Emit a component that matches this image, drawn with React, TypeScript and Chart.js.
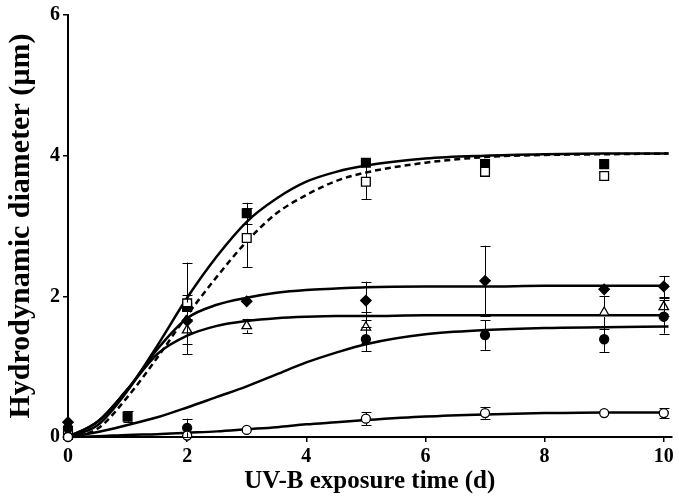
import React, { useEffect, useRef } from "react";
import { Chart, registerables } from "chart.js";

Chart.register(...registerables);

// ---------- axis ticks ----------
const X_TICKS = [0, 2, 4, 6, 8, 10];
const Y_TICKS = [0, 2, 4, 6];

// ---------- measured points (x = days, y = µm, err = ± error) ----------
const sqFilledX = [0, 1, 2, 3, 5, 7, 9];
const sqFilledY = [0.08, 0.29, 1.85, 3.18, 3.9, 3.88, 3.88];
const sqFilledErr = [0, 0.08, 0.17, 0.15, 0.05, 0, 0];

const sqOpenX = [0, 2, 3, 5, 7, 9];
const sqOpenY = [0.03, 1.9, 2.83, 3.63, 3.77, 3.71];
const sqOpenErr = [0, 0.58, 0.42, 0.25, 0, 0];

const diamondX = [0, 2, 3, 5, 7, 9, 10];
const diamondY = [0.21, 1.65, 1.93, 1.94, 2.22, 2.1, 2.14];
const diamondErr = [0, 0.05, 0, 0.27, 0.5, 0.07, 0.15];

const triangleX = [0, 2, 3, 5, 9, 10];
const triangleY = [0.04, 1.52, 1.58, 1.56, 1.77, 1.85];
const triangleErr = [0, 0.34, 0.1, 0.22, 0.24, 0.13];

const circFilledX = [0, 2, 5, 7, 9, 10];
const circFilledY = [0.13, 0.13, 1.39, 1.45, 1.39, 1.71];
const circFilledErr = [0, 0.13, 0.17, 0.21, 0.18, 0.24];

const circOpenX = [0, 2, 3, 5, 7, 9, 10];
const circOpenY = [0.0, 0.02, 0.1, 0.26, 0.34, 0.34, 0.34];
const circOpenErr = [0, 0, 0, 0.09, 0.08, 0.06, 0.07];

// ---------- fitted curves ----------
const FIT_X = [0, 0.5, 1, 1.5, 2, 2.5, 3, 3.5, 4, 4.5, 5, 6, 7, 8, 9, 10.08];
const fitSqFilled = [0, 0.17, 0.66, 1.3, 1.98, 2.57, 3.06, 3.39, 3.63, 3.77, 3.86, 3.96, 4.0, 4.02, 4.03, 4.03];
const fitSqOpen = [0, 0.12, 0.57, 1.13, 1.73, 2.28, 2.78, 3.18, 3.44, 3.64, 3.76, 3.9, 3.98, 4.01, 4.02, 4.03];
const fitDiamond = [0, 0.22, 0.68, 1.25, 1.69, 1.88, 1.98, 2.05, 2.09, 2.11, 2.13, 2.14, 2.14, 2.15, 2.15, 2.15];
const fitTriangle = [0, 0.22, 0.68, 1.18, 1.44, 1.58, 1.65, 1.69, 1.71, 1.72, 1.72, 1.73, 1.73, 1.73, 1.73, 1.73];
const fitCircFilled = [0, 0.07, 0.17, 0.28, 0.42, 0.57, 0.72, 0.89, 1.06, 1.2, 1.32, 1.46, 1.52, 1.55, 1.56, 1.57];
const fitCircOpen = [0, 0.01, 0.03, 0.04, 0.06, 0.08, 0.11, 0.14, 0.18, 0.21, 0.24, 0.29, 0.32, 0.34, 0.35, 0.35];

const pts = (xs: number[], ys: number[]) => xs.map((x, i) => ({ x, y: ys[i] }));

const FONT = '"Liberation Serif", "Times New Roman", serif';

const errorBarPlugin = {
  id: "errorBars",
  afterDatasetsDraw(chart: any) {
    const ctx = chart.ctx;
    const xs = chart.scales.x;
    const ys = chart.scales.y;
    ctx.save();
    ctx.strokeStyle = "#000";
    ctx.lineWidth = 1;
    chart.data.datasets.forEach((ds: any) => {
      if (!ds.errors) return;
      ds.data.forEach((p: any, i: number) => {
        const e = ds.errors[i];
        if (!e) return;
        const px = Math.round(xs.getPixelForValue(p.x)) + 0.5;
        const py = ys.getPixelForValue(p.y);
        const top = ys.getPixelForValue(p.y + e);
        const bot = ys.getPixelForValue(p.y - e);
        const h = ds.markerHalf;
        const cap = 5;
        ctx.beginPath();
        if (py - top > h) {
          ctx.moveTo(px, py - h);
          ctx.lineTo(px, top);
          ctx.moveTo(px - cap, Math.round(top) + 0.5);
          ctx.lineTo(px + cap, Math.round(top) + 0.5);
        }
        if (bot - py > h) {
          ctx.moveTo(px, py + h);
          ctx.lineTo(px, bot);
          ctx.moveTo(px - cap, Math.round(bot) + 0.5);
          ctx.lineTo(px + cap, Math.round(bot) + 0.5);
        }
        ctx.stroke();
      });
    });
    ctx.restore();
  },
};

export default function App() {
  const ref = useRef<HTMLCanvasElement | null>(null);

  useEffect(() => {
    if (!ref.current) return;

    const curve = (ys: number[], dashed = false) => ({
      type: "line",
      data: pts(FIT_X, ys),
      showLine: true,
      borderColor: "#000",
      borderWidth: 2.5,
      borderDash: dashed ? [6, 4] : [],
      pointRadius: 0,
      tension: 0.4,
      cubicInterpolationMode: "monotone",
      fill: false,
      order: 2,
      clip: false,
    });

    const marker = (xs: number[], ys: number[], errs: number[], style: string, filled: boolean, radius: number, half: number) => ({
      type: "scatter",
      data: pts(xs, ys),
      showLine: false,
      pointStyle: style,
      pointRadius: radius,
      pointBackgroundColor: filled ? "#000" : "#fff",
      pointBorderColor: "#000",
      pointBorderWidth: 1.3,
      order: 1,
      clip: false,
      errors: errs,
      markerHalf: half,
    });

    const chart = new Chart(ref.current, {
      type: "scatter",
      data: {
        datasets: [
          curve(fitSqFilled),
          curve(fitSqOpen, true),
          curve(fitDiamond),
          curve(fitTriangle),
          curve(fitCircFilled),
          curve(fitCircOpen),
          marker(circOpenX, circOpenY, circOpenErr, "circle", false, 4.5, 4.5),
          marker(circFilledX, circFilledY, circFilledErr, "circle", true, 4.5, 4.5),
          marker(triangleX, triangleY, triangleErr, "triangle", false, 5.5, 4.5),
          marker(diamondX, diamondY, diamondErr, "rectRot", true, 5.2, 5),
          marker(sqOpenX, sqOpenY, sqOpenErr, "rect", false, 6.2, 4.3),
          marker(sqFilledX, sqFilledY, sqFilledErr, "rect", true, 6.2, 4.3),
        ] as any,
      },
      options: {
        animation: false,
        responsive: false,
        maintainAspectRatio: false,
        devicePixelRatio: 1,
        layout: { padding: { top: 15, right: 2, left: 0, bottom: 0 } },
        plugins: { legend: { display: false }, tooltip: { enabled: false } },
        scales: {
          x: {
            type: "linear",
            min: 0,
            max: 10.13,
            afterBuildTicks: (s: any) => {
              s.ticks = X_TICKS.map((v) => ({ value: v }));
            },
            afterFit: (s: any) => {
              s.height = 60;
            },
            border: { display: true, color: "#000", width: 2 },
            grid: { drawOnChartArea: false, drawTicks: true, color: "#000", tickLength: 5, lineWidth: 1.5 },
            ticks: {
              color: "#000",
              padding: 3,
              maxRotation: 0,
              autoSkip: false,
              font: { family: FONT, weight: "bold", size: 20 },
            },
            title: {
              display: true,
              text: "UV-B exposure time (d)",
              color: "#000",
              font: { family: FONT, weight: "bold", size: 25 },
              padding: { top: 0, bottom: 0 },
            },
          },
          y: {
            type: "linear",
            min: 0,
            max: 6,
            afterBuildTicks: (s: any) => {
              s.ticks = Y_TICKS.map((v) => ({ value: v }));
            },
            afterFit: (s: any) => {
              s.width = 68;
            },
            border: { display: true, color: "#000", width: 2 },
            grid: { drawOnChartArea: false, drawTicks: true, color: "#000", tickLength: 5, lineWidth: 1.5 },
            ticks: {
              color: "#000",
              padding: 3,
              font: { family: FONT, weight: "bold", size: 20 },
            },
            title: {
              display: true,
              text: "Hydrodynamic diameter (\u00b5m)",
              color: "#000",
              font: { family: FONT, weight: "bold", size: 30 },
              padding: { top: 3, bottom: 0 },
            },
          },
        },
      } as any,
      plugins: [errorBarPlugin],
    });

    return () => chart.destroy();
  }, []);

  return (
    <div style={{ position: "fixed", left: 0, top: 0, width: 679, height: 497, background: "#fff" }}>
      <canvas ref={ref} width={679} height={497} style={{ display: "block", width: 679, height: 497 }} />
    </div>
  );
}
